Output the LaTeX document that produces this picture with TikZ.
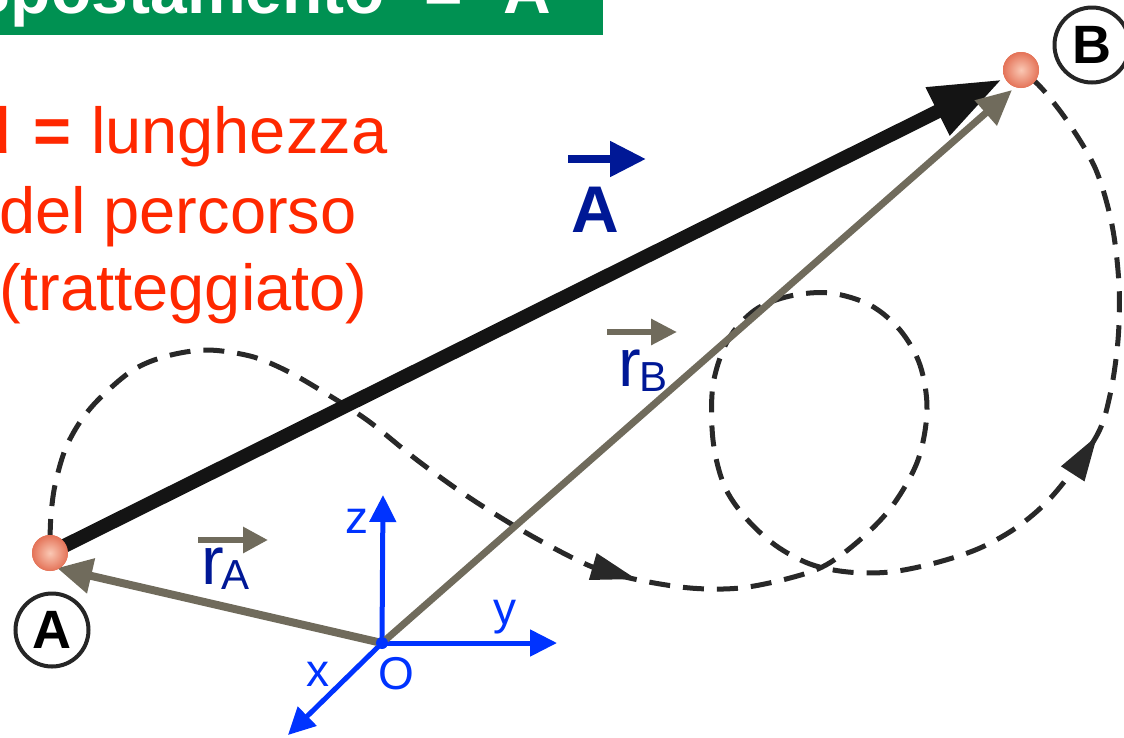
\documentclass[tikz,border=0pt]{standalone}
\usepackage{fontspec}
\setmainfont{Liberation Sans}
\usetikzlibrary{arrows.meta,calc}
\definecolor{bannergreen}{RGB}{0,145,82}
\definecolor{redtxt}{RGB}{255,40,0}
\definecolor{navy}{RGB}{0,24,150}
\definecolor{vecgray}{RGB}{112,107,92}
\definecolor{axisblue}{RGB}{0,51,255}
\definecolor{ballout}{RGB}{228,115,88}
\definecolor{ballin}{RGB}{250,200,180}
\definecolor{dashgray}{RGB}{40,40,40}
\begin{document}
\begin{tikzpicture}[x=1pt,y=-1pt,
  fsz/.style={font=\fontsize{#1}{#1}\selectfont},
  txt/.style={inner sep=0pt, outer sep=0pt},
  bantxt/.style={txt, text=white, font=\fontsize{66}{66}\selectfont\bfseries},
  redline/.style={txt, text=redtxt, fsz=65},
  axislbl/.style={txt, text=axisblue, fsz=46},
  axisarrow/.style={axisblue, line width=5pt, -{Triangle[length=27pt,width=26pt]}},
  grayvec/.style={vecgray, line width=#1},
  pathline/.style={dashgray, line width=5pt, dash pattern=on 21pt off 13pt},
  ball/.style={circle, inner sep=0pt, minimum size=36pt, inner color=ballin, outer color=ballout},
  circlbl/.style={circle, draw=black!85, line width=4pt, inner sep=0pt, font=\fontsize{54}{54}\selectfont\bfseries},
]
\useasboundingbox (0,0) rectangle (1124,737);

% banner
\begin{scope}
  \clip (0,0) rectangle (603,35);
  \fill[bannergreen] (0,-10) rectangle (603,35);
  \node[bantxt, anchor=base east] (bt1) at (385,13) {Spostamento};
  \node[bantxt, anchor=base] (bt2) at (444,13) {=};
  \node[bantxt, anchor=base] (bt3) at (527,13) {A};
\end{scope}

% red text
\node[redline, anchor=base east] (d) at (11,153) {\bfseries d};
\node[redline, anchor=base] (eq) at (52,153) {\bfseries =};
\node[redline, anchor=base west] (l1) at (91,153) {lunghezza};
\node[redline, anchor=base west] (l2) at (-1,233) {del percorso};
\node[redline, anchor=base west] (l3) at (-1,310) {(tratteggiato)};

% main points
\coordinate (Apos) at (50,553);
\coordinate (Bpos) at (1021,70);
\coordinate (O) at (382,643);

% dashed path
\draw[pathline] plot[smooth, tension=0.55] coordinates {
 (50,540) (51,515) (55,485) (65,450) (80,422) (100,398) (133,370) (167,356)
 (207,350) (250,356) (283,369) (317,388) (367,420) (417,460) (470,498)
 (530,535) (590,566) (634,579) (690,588) (740,588) (790,578) (826,565)
 (862,538) (893,505) (918,460) (927,410) (920,365) (900,330) (870,305)
 (830,293) (790,296) (755,310) (728,340) (713,385) (713,440) (724,485)
 (745,517) (775,545) (810,564) (848,572) (890,572) (935,563) (980,548)
 (1020,525) (1055,493) (1096,437) (1110,395) (1118,340) (1119,285)
 (1112,225) (1096,170) (1070,125) (1045,92) (1030,77)};
\coordinate (h1t) at (636,579);
\coordinate (h1b) at (591,566);
\fill[dashgray] (h1t) -- ($(h1t)!45pt!(h1b)!14pt!90:(h1t)$) -- ($(h1t)!45pt!(h1b)!14pt!-90:(h1t)$) -- cycle;
\coordinate (h2t) at (1097,436);
\coordinate (h2b) at (1072,475);
\fill[dashgray] (h2t) -- ($(h2t)!45pt!(h2b)!14pt!90:(h2t)$) -- ($(h2t)!45pt!(h2b)!14pt!-90:(h2t)$) -- cycle;

% balls (nodes for connectors)
\node[ball] (A) at (Apos) {};
\node[ball] (B) at (Bpos) {};

% displacement vector
\draw[black!92, line width=14pt, shorten >=3pt, -{Triangle[length=72pt,width=50pt]}] (A.center) -- (B);

% axes
\coordinate (zend) at (383,495);
\coordinate (yend) at (557,643);
\coordinate (xend) at (288,735);
\draw[axisarrow] (O) -- (zend);
\draw[axisarrow] (O) -- (yend);
\draw[axisarrow] (O) -- (xend);

% position vectors
\coordinate (Atip) at (57,568);
\coordinate (Btip) at (1012,90);
\draw[grayvec=8pt, -{Triangle[length=35pt,width=34pt]}] (O) -- (Atip);
\draw[grayvec=7pt, -{Triangle[length=35pt,width=32pt]}] (O) -- (Btip);
\node[circle, fill=axisblue, inner sep=0pt, minimum size=12pt] (Odot) at (O) {};

% redraw balls on top
\node[ball] at (Apos) {};
\node[ball] at (Bpos) {};

% circled labels
\node[circlbl, minimum size=73pt] (Alab) at (52,630) {A};
\node[circlbl, minimum size=75pt] (Blab) at (1092,45) {B};

% axis labels
\node[axislbl, anchor=base] (zl) at (357,533) {z};
\node[axislbl, anchor=base] (yl) at (505,624) {y};
\node[axislbl, anchor=base] (xl) at (318,686) {x};
\node[axislbl, anchor=base] (Ol) at (396,689) {O};

% vector A label
\node[txt, text=navy, font=\fontsize{66}{66}\selectfont\bfseries, anchor=base] (Alabel) at (595,232) {A};
\coordinate (vA1) at (568,159);
\coordinate (vA2) at (646,159);
\draw[navy, line width=8pt, -{Triangle[length=36pt,width=34pt]}] (vA1) -- (vA2);

% r_A label
\node[txt, text=navy, fsz=68, anchor=base west] (rA) at (201,584) {r};
\node[txt, text=navy, fsz=42, anchor=base west] (rAs) at (221,589) {A};
\coordinate (vrA1) at (198,540);
\coordinate (vrA2) at (268,540);
\draw[grayvec=6pt, -{Triangle[length=25pt,width=25pt]}] (vrA1) -- (vrA2);

% r_B label
\node[txt, text=navy, fsz=68, anchor=base west] (rB) at (618,386) {r};
\node[txt, text=navy, fsz=42, anchor=base west] (rBs) at (639,391) {B};
\coordinate (vrB1) at (607,332);
\coordinate (vrB2) at (677,332);
\draw[grayvec=6pt, -{Triangle[length=26pt,width=25pt]}] (vrB1) -- (vrB2);
\end{tikzpicture}
\end{document}
